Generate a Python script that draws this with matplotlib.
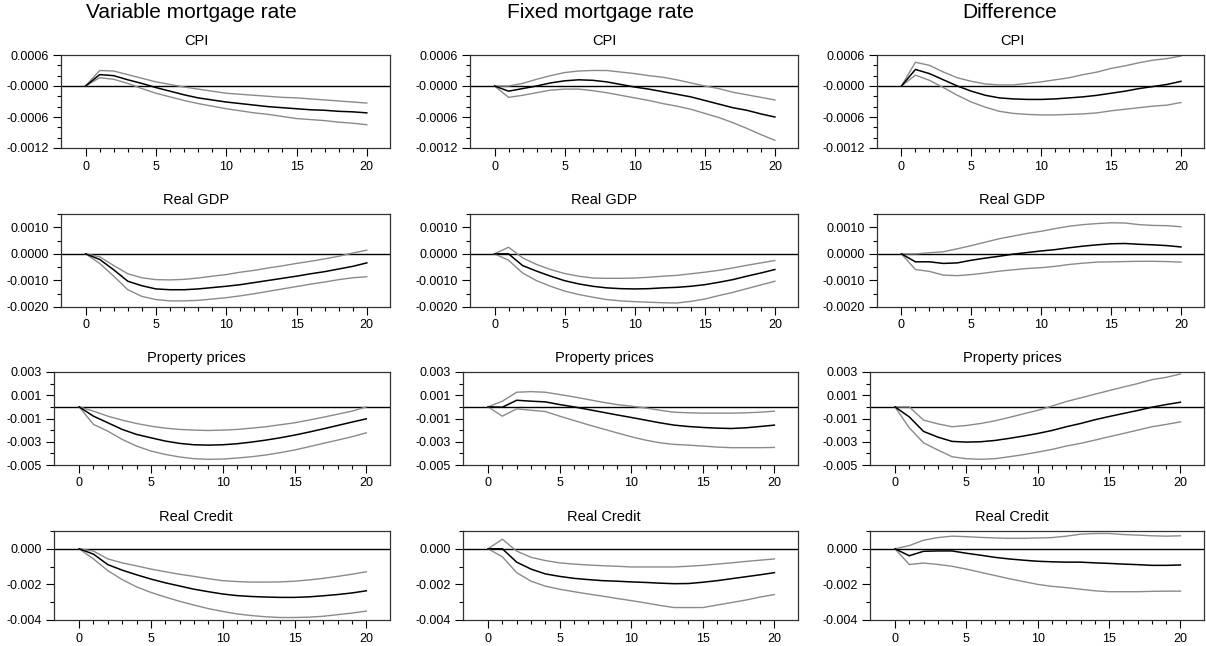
import numpy as np
import matplotlib
matplotlib.use("Agg")
import matplotlib.pyplot as plt
from matplotlib.ticker import FixedLocator, FixedFormatter, MultipleLocator

plt.rcParams["font.family"] = ["Liberation Sans", "DejaVu Sans"]

horizon = list(range(21))

col_titles = ["Variable mortgage rate", "Fixed mortgage rate", "Difference"]
row_titles = ["CPI", "Real GDP", "Property prices", "Real Credit"]

# CPI
cpi_var_mean = [0, 0.00022, 0.0002, 0.00012, 0.00005, -0.00003, -0.0001, -0.00017, -0.00023, -0.00027, -0.00031,
                -0.00034, -0.00037, -0.0004, -0.00042, -0.00044, -0.00046, -0.00047, -0.00049, -0.0005, -0.00052]
cpi_var_upper = [0, 0.0003, 0.00029, 0.00022, 0.00015, 0.00008, 0.00003, -0.00002, -0.00006, -0.0001, -0.00014,
                 -0.00016, -0.00018, -0.0002, -0.00022, -0.00023, -0.00025, -0.00027, -0.00029, -0.00031, -0.00033]
cpi_var_lower = [0, 0.00016, 0.00013, 0.00005, -0.00005, -0.00014, -0.00021, -0.00028, -0.00034, -0.00039, -0.00044,
                 -0.00048, -0.00052, -0.00055, -0.00059, -0.00063, -0.00065, -0.00067, -0.0007, -0.00072, -0.00075]

cpi_fix_mean = [0, -0.0001, -0.00005, 0, 0.00006, 0.0001, 0.00012, 0.00011, 0.00008, 0.00003, -0.00002,
                -0.00006, -0.00011, -0.00016, -0.00021, -0.00028, -0.00035, -0.00042, -0.00047, -0.00054, -0.0006]
cpi_fix_upper = [0, 0, 0.00005, 0.00013, 0.0002, 0.00026, 0.00029, 0.0003, 0.0003, 0.00027, 0.00024,
                 0.0002, 0.00017, 0.00012, 0.00006, 0, -0.00005, -0.00012, -0.00017, -0.00022, -0.00027]
cpi_fix_lower = [0, -0.00022, -0.00018, -0.00013, -0.00008, -0.00006, -0.00006, -0.00009, -0.00013, -0.00018, -0.00023,
                 -0.00028, -0.00034, -0.00039, -0.00045, -0.00053, -0.00061, -0.00071, -0.00082, -0.00094, -0.00105]

cpi_diff_mean = [0, 0.00032, 0.00024, 0.00012, 0, -0.0001, -0.00018, -0.00023, -0.00025, -0.00026, -0.00026,
                 -0.00025, -0.00023, -0.00021, -0.00018, -0.00014, -0.0001, -0.00005, -0.00001, 0.00003, 0.00009]
cpi_diff_upper = [0, 0.00046, 0.0004, 0.00027, 0.00016, 0.00009, 0.00004, 0.00002, 0.00002, 0.00005, 0.00008,
                  0.00012, 0.00016, 0.00022, 0.00027, 0.00034, 0.00039, 0.00045, 0.0005, 0.00053, 0.00058]
cpi_diff_lower = [0, 0.00021, 0.00011, -0.00003, -0.00018, -0.00031, -0.00041, -0.00049, -0.00053, -0.00055, -0.00056,
                  -0.00056, -0.00055, -0.00054, -0.00052, -0.00048, -0.00045, -0.00042, -0.00039, -0.00037, -0.00032]

# Real GDP
gdp_var_mean = [0, -0.00021, -0.0006, -0.00103, -0.0012, -0.00132, -0.00135, -0.00135, -0.00132, -0.00127, -0.00122,
                -0.00116, -0.00108, -0.001, -0.00092, -0.00084, -0.00075, -0.00067, -0.00057, -0.00047, -0.00034]
gdp_var_upper = [0, -0.00011, -0.00044, -0.00075, -0.0009, -0.00097, -0.00098, -0.00096, -0.00091, -0.00084, -0.00078,
                 -0.00069, -0.00062, -0.00053, -0.00045, -0.00036, -0.00028, -0.00019, -0.00009, 0.00003, 0.00014]
gdp_var_lower = [0, -0.00036, -0.00084, -0.00135, -0.0016, -0.00172, -0.00177, -0.00177, -0.00175, -0.0017, -0.00165,
                 -0.00158, -0.0015, -0.00141, -0.00132, -0.00123, -0.00114, -0.00106, -0.00097, -0.0009, -0.00086]

gdp_fix_mean = [0, 0, -0.00044, -0.00065, -0.00084, -0.00101, -0.00113, -0.00122, -0.00128, -0.00131, -0.00132,
                -0.00131, -0.00128, -0.00126, -0.00122, -0.00116, -0.00107, -0.00097, -0.00084, -0.00072, -0.00059]
gdp_fix_upper = [0, 0.00025, -0.00015, -0.0004, -0.00059, -0.00074, -0.00084, -0.00091, -0.00092, -0.00092, -0.00091,
                 -0.00088, -0.00084, -0.00081, -0.00075, -0.00069, -0.00062, -0.00053, -0.00043, -0.00034, -0.00025]
gdp_fix_lower = [0, -0.00024, -0.00072, -0.00101, -0.00122, -0.0014, -0.00153, -0.00163, -0.00172, -0.00177, -0.0018,
                 -0.00182, -0.00184, -0.00185, -0.00179, -0.0017, -0.00157, -0.00145, -0.00131, -0.00117, -0.00103]

gdp_diff_mean = [0, -0.0003, -0.0003, -0.00036, -0.00034, -0.00024, -0.00016, -0.00009, -0.00001, 0.00005, 0.00011,
                 0.00016, 0.00023, 0.00029, 0.00034, 0.00038, 0.00039, 0.00036, 0.00034, 0.00031, 0.00026]
gdp_diff_upper = [0, 0, 0.00004, 0.00008, 0.00019, 0.00031, 0.00044, 0.00057, 0.00067, 0.00077, 0.00085,
                  0.00095, 0.00104, 0.0011, 0.00114, 0.00117, 0.00116, 0.0011, 0.00107, 0.00106, 0.00102]
gdp_diff_lower = [0, -0.00059, -0.00066, -0.0008, -0.00082, -0.00078, -0.00072, -0.00065, -0.0006, -0.00055, -0.00052,
                  -0.00047, -0.0004, -0.00035, -0.00031, -0.0003, -0.00029, -0.00028, -0.00028, -0.00029, -0.00031]

# Property prices
prop_var_mean = [0, -0.0008, -0.00137, -0.00194, -0.00237, -0.00266, -0.00294, -0.00314, -0.00326, -0.00329, -0.00326,
                 -0.00317, -0.00303, -0.00286, -0.00266, -0.00243, -0.00217, -0.00189, -0.0016, -0.00131, -0.00103]
prop_var_upper = [0, -0.00037, -0.0008, -0.00114, -0.00143, -0.00166, -0.00183, -0.00194, -0.002, -0.00203, -0.002,
                  -0.00194, -0.00183, -0.00171, -0.00154, -0.00137, -0.00114, -0.00089, -0.00063, -0.00037, 0]
prop_var_lower = [0, -0.00151, -0.00209, -0.0028, -0.00337, -0.0038, -0.00409, -0.00431, -0.00446, -0.00451, -0.00449,
                  -0.0044, -0.00429, -0.00414, -0.00394, -0.00371, -0.00343, -0.00314, -0.00286, -0.00257, -0.00223]

prop_fix_mean = [0, -0.00003, 0.00057, 0.00049, 0.00043, 0.0002, 0, -0.00023, -0.00046, -0.00069, -0.00091,
                 -0.00114, -0.00137, -0.00157, -0.00169, -0.00177, -0.00183, -0.00186, -0.0018, -0.00169, -0.00157]
prop_fix_upper = [0, 0.00049, 0.00126, 0.00131, 0.00126, 0.00106, 0.00086, 0.00063, 0.0004, 0.0002, 0.00006,
                  -0.00009, -0.00029, -0.00046, -0.00051, -0.00054, -0.00054, -0.00054, -0.00051, -0.00046, -0.00037]
prop_fix_lower = [0, -0.0008, -0.00017, -0.00029, -0.0004, -0.0008, -0.00117, -0.00154, -0.00189, -0.00223, -0.00257,
                  -0.00286, -0.00309, -0.00323, -0.00329, -0.00337, -0.00346, -0.00351, -0.00351, -0.00351, -0.00349]

prop_diff_mean = [0, -0.00086, -0.00211, -0.0026, -0.00297, -0.00303, -0.003, -0.00289, -0.00271, -0.00251, -0.00229,
                  -0.00203, -0.00171, -0.00143, -0.00111, -0.00083, -0.00057, -0.00031, -0.00003, 0.0002, 0.0004]
prop_diff_upper = [0, 0, -0.00114, -0.00146, -0.00171, -0.0016, -0.00143, -0.0012, -0.00091, -0.0006, -0.0003,
                   0.00007, 0.00046, 0.00077, 0.00109, 0.0014, 0.00171, 0.002, 0.00234, 0.00254, 0.00283]
prop_diff_lower = [0, -0.0018, -0.00309, -0.00371, -0.00429, -0.00446, -0.00451, -0.00446, -0.00429, -0.00411, -0.00389,
                   -0.00366, -0.00337, -0.00314, -0.00286, -0.00257, -0.00229, -0.002, -0.00171, -0.00151, -0.00129]

# Real Credit
credit_var_mean = [0, -0.0003, -0.00089, -0.0012, -0.00146, -0.0017, -0.00191, -0.00209, -0.00227, -0.00241, -0.00254,
                   -0.00263, -0.00268, -0.00271, -0.00273, -0.00273, -0.0027, -0.00264, -0.00257, -0.00248, -0.00236]
credit_var_upper = [0, -0.00013, -0.00057, -0.00079, -0.00096, -0.00114, -0.00129, -0.00143, -0.00155, -0.00168, -0.00179,
                    -0.00184, -0.00187, -0.00187, -0.00186, -0.00182, -0.00175, -0.00166, -0.00155, -0.00143, -0.00129]
credit_var_lower = [0, -0.00057, -0.00123, -0.00173, -0.00214, -0.00245, -0.00271, -0.00295, -0.00316, -0.00336, -0.00352,
                    -0.00366, -0.00375, -0.00382, -0.00386, -0.00386, -0.00384, -0.00379, -0.0037, -0.00361, -0.0035]

credit_fix_mean = [0, 0, -0.00075, -0.00114, -0.00141, -0.00155, -0.00166, -0.00173, -0.00179, -0.00182, -0.00186,
                   -0.00189, -0.00193, -0.00196, -0.00195, -0.00188, -0.00179, -0.00168, -0.00157, -0.00146, -0.00134]
credit_fix_upper = [0, 0.00054, -0.00013, -0.00048, -0.00066, -0.00079, -0.00086, -0.00091, -0.00095, -0.00098, -0.00102,
                    -0.00102, -0.00102, -0.00102, -0.00098, -0.00093, -0.00086, -0.00079, -0.00071, -0.00064, -0.00057]
credit_fix_lower = [0, -0.00045, -0.00134, -0.00182, -0.0021, -0.00227, -0.00241, -0.00254, -0.00266, -0.00279, -0.00291,
                    -0.00304, -0.00318, -0.0033, -0.0033, -0.0033, -0.00316, -0.00302, -0.00288, -0.00271, -0.00257]

credit_diff_mean = [0, -0.00039, -0.00014, -0.00012, -0.00012, -0.00025, -0.00036, -0.00048, -0.00057, -0.00064, -0.0007,
                    -0.00073, -0.00075, -0.00075, -0.00079, -0.00082, -0.00086, -0.00089, -0.00093, -0.00093, -0.00091]
credit_diff_upper = [0, 0.00018, 0.00048, 0.00063, 0.00071, 0.00068, 0.00064, 0.00061, 0.00059, 0.00059, 0.00061,
                     0.00063, 0.00071, 0.00082, 0.00086, 0.00086, 0.0008, 0.00077, 0.00073, 0.00071, 0.00073]
credit_diff_lower = [0, -0.00088, -0.0008, -0.00088, -0.00098, -0.00114, -0.00132, -0.0015, -0.00168, -0.00184, -0.002,
                     -0.00211, -0.00218, -0.00227, -0.00236, -0.00241, -0.00241, -0.00241, -0.00239, -0.00238, -0.00238]

# y axis set-up per row
cpi_yticks = [-0.0012, -0.0006, 0.0, 0.0006]
cpi_ylabels = ["-0.0012", "-0.0006", "-0.0000", "0.0006"]
gdp_yticks = [-0.002, -0.001, 0.0, 0.001]
gdp_ylabels = ["-0.0020", "-0.0010", "0.0000", "0.0010"]
prop_yticks = [-0.005, -0.003, -0.001, 0.001, 0.003]
prop_ylabels = ["-0.005", "-0.003", "-0.001", "0.001", "0.003"]
credit_yticks = [-0.004, -0.002, 0.0]
credit_ylabels = ["-0.004", "-0.002", "0.000"]

panels = [
    [(cpi_var_mean, cpi_var_upper, cpi_var_lower),
     (cpi_fix_mean, cpi_fix_upper, cpi_fix_lower),
     (cpi_diff_mean, cpi_diff_upper, cpi_diff_lower)],
    [(gdp_var_mean, gdp_var_upper, gdp_var_lower),
     (gdp_fix_mean, gdp_fix_upper, gdp_fix_lower),
     (gdp_diff_mean, gdp_diff_upper, gdp_diff_lower)],
    [(prop_var_mean, prop_var_upper, prop_var_lower),
     (prop_fix_mean, prop_fix_upper, prop_fix_lower),
     (prop_diff_mean, prop_diff_upper, prop_diff_lower)],
    [(credit_var_mean, credit_var_upper, credit_var_lower),
     (credit_fix_mean, credit_fix_upper, credit_fix_lower),
     (credit_diff_mean, credit_diff_upper, credit_diff_lower)],
]
row_axis = [
    (cpi_yticks, cpi_ylabels, (-0.0012, 0.0006), 0.0002),
    (gdp_yticks, gdp_ylabels, (-0.002, 0.0015), 0.0005),
    (prop_yticks, prop_ylabels, (-0.005, 0.003), 0.001),
    (credit_yticks, credit_ylabels, (-0.004, 0.001), 0.001),
]

W, H = 1206, 646
fig = plt.figure(figsize=(W / 100, H / 100), dpi=100)

row_tops = [55, 214, 372, 531]
row_heights = [93, 93, 93, 89]
lefts_wide = [61, 470, 877]
lefts_narrow = [54, 463, 870]
rights = [390, 798, 1204]
band_color = "#8a8a8a"

for c, title in enumerate(col_titles):
    fig.text((191 + 409.5 * c) / W, 1 - 13 / H, title, ha="center", va="center", fontsize=15)

for r in range(4):
    yticks, ylabels, ylim, minor = row_axis[r]
    lefts = lefts_wide if r < 2 else lefts_narrow
    ax_h = row_heights[r]
    for c in range(3):
        left = lefts[c]
        ax = fig.add_axes([left / W, 1 - (row_tops[r] + ax_h) / H, (rights[c] - left) / W, ax_h / H])
        mean, upper, lower = panels[r][c]
        ax.axhline(0, color="black", linewidth=1.0)
        ax.plot(horizon, upper, color=band_color, linewidth=1.0)
        ax.plot(horizon, lower, color=band_color, linewidth=1.0)
        ax.plot(horizon, mean, color="black", linewidth=1.1)
        ax.set_xlim(-1.75, 21.65)
        ax.set_ylim(*ylim)
        ax.xaxis.set_major_locator(FixedLocator([0, 5, 10, 15, 20]))
        ax.xaxis.set_minor_locator(FixedLocator(horizon))
        ax.yaxis.set_major_locator(FixedLocator(yticks))
        ax.yaxis.set_major_formatter(FixedFormatter(ylabels))
        ax.yaxis.set_minor_locator(MultipleLocator(minor))
        ax.tick_params(axis="both", which="major", direction="out", length=5.5, width=0.8, labelsize=9)
        ax.tick_params(axis="x", which="major", pad=3.5)
        ax.tick_params(axis="y", which="major", pad=3)
        ax.tick_params(axis="both", which="minor", direction="out", length=3, width=0.8)
        for s in ax.spines.values():
            s.set_linewidth(0.9)
            s.set_color("#333333")
        fig.text((196 + 408 * c) / W, 1 - (row_tops[r] - 14) / H, row_titles[r],
                 ha="center", va="center", fontsize=10.5)

fig.savefig("out.png", dpi=100)
